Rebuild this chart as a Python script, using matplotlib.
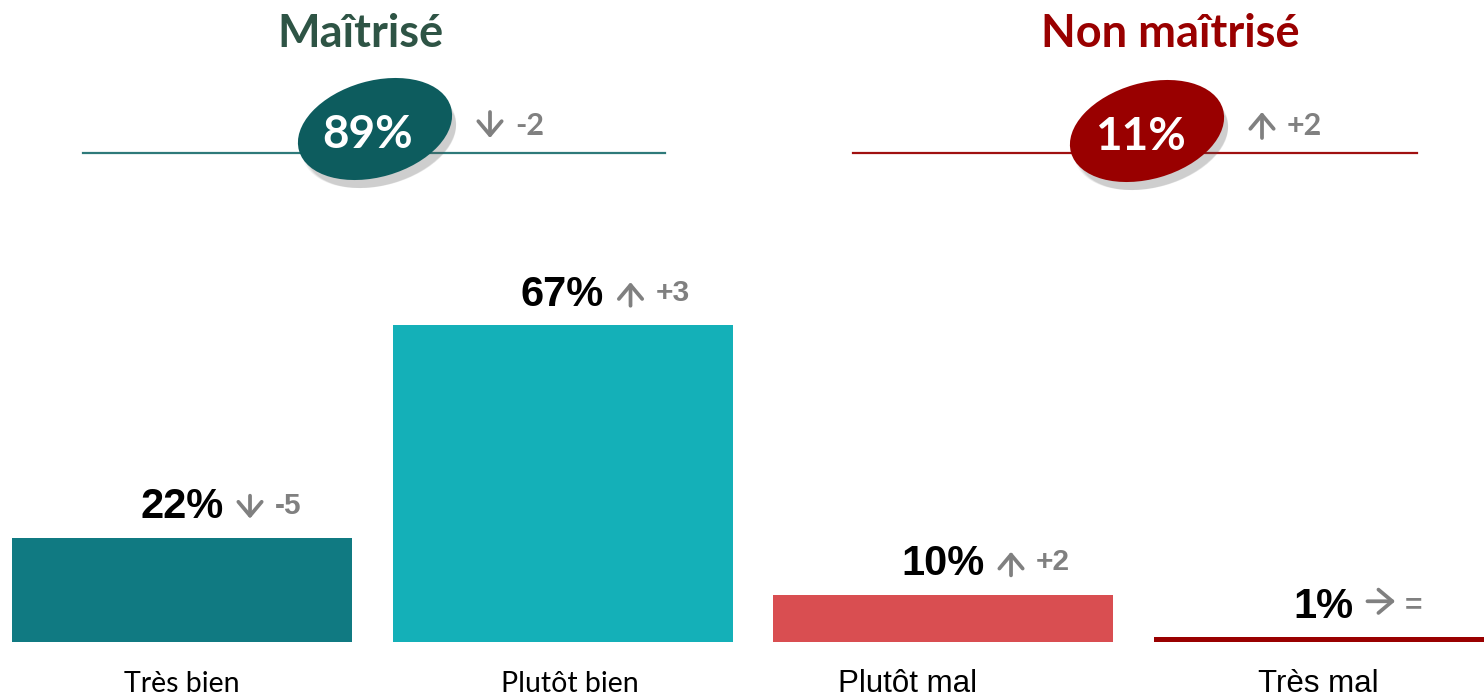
import matplotlib.pyplot as plt
from matplotlib.patches import Ellipse
from matplotlib.text import OffsetFrom

# --- data ---
categories = ["Très bien", "Plutôt bien", "Plutôt mal", "Très mal"]
values = [22, 67, 10, 1]
delta_dirs = ["down", "up", "up", "flat"]
delta_values = ["-5", "+3", "+2", "="]

groups = ["Maîtrisé", "Non maîtrisé"]
group_totals = [89, 11]
group_dirs = ["down", "up"]
group_deltas = ["-2", "+2"]

# --- styles ---
bar_colors = ["#107A82", "#14B0B8", "#D94E51", "#990000"]
group_title_colors = ["#2E5445", "#990000"]
group_fill_colors = ["#0D5C5E", "#990000"]
group_line_colors = ["#2E7A7A", "#A01010"]
gray = "#808080"
cat_fonts = ["Lato", "Lato", "Liberation Sans", "Liberation Sans"]
cat_sizes = [20.5, 20.5, 22.5, 22.5]
cat_shift_px = [0, 7, -35, -5]

arrow_props = dict(arrowstyle="->,head_length=0.5,head_width=0.42", lw=2.7,
                   color=gray, shrinkA=0, shrinkB=0, mutation_scale=20)

# arrow (tail, tip) in points, relative to the baseline of a label's right end
arrow_shapes = {
    "down": ((19, 16.5), (19, 0)),
    "up": ((19, 0), (19, 17)),
    "flat": ((10, 12), (30, 12)),
}

W, H = 1484, 698
fig = plt.figure(figsize=(W / 100, H / 100), dpi=100)
fig.patch.set_facecolor("white")

# === bars ===
px_per_pct = 4.73
spacing = 380.5
ax = fig.add_axes([0, 0, 1, 1])
ax.set_xlim(-182 / spacing, (W - 182) / spacing)
ax.set_ylim(-56 / px_per_pct, (H - 56) / px_per_pct)
ax.axis("off")

x = list(range(len(categories)))
ax.bar(x, values, width=340 / spacing, color=bar_colors, linewidth=0)

desc = 6.4  # descent of the 30pt label, points
for i, v in enumerate(values):
    lbl = ax.annotate(f"{v}%", xy=(i, v), xytext=(0, 14), textcoords="offset points",
                      ha="center", va="baseline", fontsize=30, fontweight="bold",
                      family="Liberation Sans", color="black")
    anchor = OffsetFrom(lbl, (1, 0), unit="points")
    (tx, ty), (hx_, hy) = arrow_shapes[delta_dirs[i]]
    ax.annotate("", xy=(hx_, hy + desc), xycoords=anchor,
                xytext=(tx, ty + desc), textcoords=anchor, arrowprops=arrow_props)
    ax.annotate(delta_values[i], xy=(37, desc + 3.6), xycoords=anchor,
                ha="left", va="baseline", fontsize=21.5, fontweight="bold", color=gray,
                family=["Liberation Sans Narrow", "Liberation Sans"])
    ax.text(i + cat_shift_px[i] / spacing, -50 / px_per_pct, categories[i], ha="center",
            va="baseline", fontsize=cat_sizes[i], family=cat_fonts[i], color="black")

# === header (pixel coordinates) ===
hx = fig.add_axes([0, 0, 1, 1], zorder=3)
hx.set_xlim(0, W)
hx.set_ylim(H, 0)
hx.axis("off")
hx.patch.set_alpha(0)

title_x = [360, 1170]
line_spans = [(83, 665), (853, 1417)]
ell_centers = [(375, 129), (1147, 131)]
for g in range(len(groups)):
    hx.text(title_x[g], 47, groups[g], ha="center", va="baseline", fontsize=32.5,
            fontweight="bold", family="Lato", color=group_title_colors[g])
    hx.plot(line_spans[g], [153, 153], color=group_line_colors[g], lw=1.6, zorder=1)
    cx, cy = ell_centers[g]
    for k, a in enumerate([0.08, 0.10, 0.13]):
        hx.add_patch(Ellipse((cx + 4 + k, cy + 8 + k), 158 - 2 * k, 96 - 2 * k,
                             angle=-16, facecolor="#555555", alpha=a,
                             edgecolor="none", zorder=2))
    hx.add_patch(Ellipse((cx, cy), 158, 96, angle=-16,
                         facecolor=group_fill_colors[g], edgecolor="none", zorder=3))
    hx.text(cx - 7, cy + 19, f"{group_totals[g]}%", ha="center", va="baseline",
            fontsize=33, fontweight="bold", family="Lato", color="white", zorder=4)
    ax_x = cx + 115
    y_top, y_bot = 112, 138
    if group_dirs[g] == "down":
        tail, tip = (ax_x, y_top), (ax_x, y_bot)
    else:
        tail, tip = (ax_x, y_bot), (ax_x, y_top)
    hx.annotate("", xy=tip, xytext=tail, arrowprops=arrow_props, zorder=4)
    hx.text(ax_x + 25, 135, group_deltas[g], ha="left", va="baseline", fontsize=22,
            fontweight="bold", family="Lato", color=gray, zorder=4)

fig.savefig("out.png", dpi=100)
